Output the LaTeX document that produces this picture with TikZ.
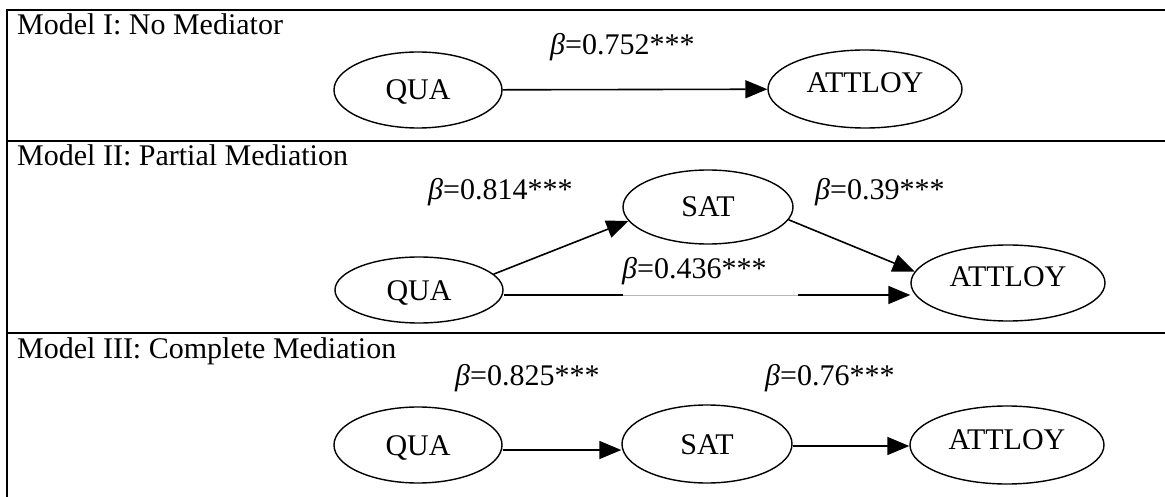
\documentclass[tikz,border=0pt]{standalone}
\usepackage{fontspec}
\setmainfont{Liberation Serif}
\usetikzlibrary{arrows.meta,shapes.geometric}
\newcommand{\bt}{\textit{β}}
\begin{document}
\begin{tikzpicture}[x=1pt,y=-1pt,
  every node/.style={font=\fontsize{30}{36}\selectfont},
  frameline/.style={line width=2.6pt},
  latent/.style={draw,ellipse,line width=1.4pt,inner sep=0pt,text height=20pt,text depth=0pt},
  quasty/.style={latent,minimum width=168pt,minimum height=76pt},
  satsty/.style={latent,minimum width=170pt,minimum height=76pt},
  attsty/.style={latent,minimum width=194pt,minimum height=78pt,text depth=12pt},
  arr/.style={line width=1.6pt,-{Triangle[length=22pt,width=18pt]}},
  coef/.style={anchor=base west,inner sep=0pt},
  ttl/.style={anchor=base west,inner sep=0pt}]
\useasboundingbox (0,0) rectangle (1165,497);
% frame
\draw[frameline] (7,497) -- (7,10) -- (1165,10);
\draw[frameline] (7,141) -- (1165,141);
\draw[frameline] (7,333) -- (1165,333);
% titles
\node[ttl] (t1) at (17,35) {Model I: No Mediator};
\node[ttl] (t2) at (17,166) {Model II: Partial Mediation};
\node[ttl] (t3) at (17,358) {Model III: Complete Mediation};
% Model I
\node[quasty] (qua1) at (418,90) {QUA};
\node[attsty] (att1) at (865,89) {ATTLOY};
\draw[arr] (qua1) -- (att1);
\node[coef] (b1) at (550,55) {\bt=0.752***};
% Model II
\node[quasty,minimum height=66pt] (qua2) at (419,290) {QUA};
\node[satsty,minimum height=74pt] (sat2) at (708,207) {SAT};
\node[attsty,minimum height=76pt] (att2) at (1008,283) {ATTLOY};
\draw[arr] (qua2.12) -- (sat2.190);
\draw[arr] (sat2.-9) -- (att2.173);
\draw[arr] ([yshift=-5pt]qua2.east) -- ([yshift=-5pt]qua2.east -| att2.west);
\coordinate (g1) at (623,295);
\coordinate (g2) at (798,295);
\draw[white,line width=2.2pt] (g1) -- (g2);
\draw[black!28,line width=0.9pt] (g1) -- (g2);
\node[coef] (b2) at (428,200) {\bt=0.814***};
\node[coef] (b3) at (815,200) {\bt=0.39***};
\node[coef] (b4) at (622,278) {\bt=0.436***};
% Model III
\node[quasty] (qua3) at (418,445) {QUA};
\node[satsty,minimum height=78pt] (sat3) at (707,444) {SAT};
\node[attsty] (att3) at (1007,445) {ATTLOY};
\draw[arr] ([yshift=-5pt]qua3.east) -- ([yshift=-5pt]qua3.east -| sat3.west);
\draw[arr] ([yshift=-2pt]sat3.east) -- ([yshift=-2pt]sat3.east -| att3.west);
\node[coef] (b5) at (455,385) {\bt=0.825***};
\node[coef] (b6) at (765,385) {\bt=0.76***};
\end{tikzpicture}
\end{document}
